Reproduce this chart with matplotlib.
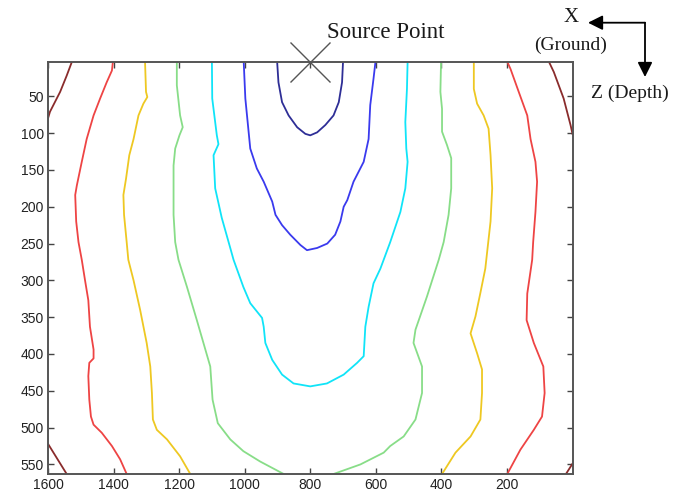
import matplotlib.pyplot as plt

# contour traces: x = ground position, z = depth
dkred_l_top_x = [1527, 1543, 1563, 1594, 1600]
dkred_l_top_z = [3, 22, 44, 71, 80]
dkred_l_bot_x = [1600, 1543]
dkred_l_bot_z = [522, 563]

red_l_x = [1402, 1405, 1421, 1441, 1461, 1482, 1497, 1512, 1517, 1514, 1507, 1497, 1487,
           1477, 1472, 1461, 1461, 1474, 1477, 1474, 1469, 1461, 1436, 1405, 1380, 1360]
red_l_z = [3, 15, 31, 53, 76, 108, 139, 171, 184, 220, 248, 272, 300,
           327, 363, 394, 406, 412, 430, 462, 485, 496, 507, 525, 543, 563]

yel_l_x = [1304, 1301, 1297, 1309, 1324, 1339, 1352, 1362, 1370, 1368, 1360,
           1355, 1339, 1319, 1299, 1288, 1283, 1280, 1268, 1237, 1197, 1166]
yel_l_z = [3, 44, 51, 60, 76, 108, 130, 162, 184, 211, 248,
           272, 300, 340, 385, 417, 453, 489, 503, 516, 539, 563]

grn_l_x = [1207, 1207, 1197, 1189, 1199, 1212, 1217, 1217, 1217, 1212, 1202, 1176, 1146,
           1105, 1098, 1082, 1044, 1004, 953, 881]
grn_l_z = [3, 35, 76, 92, 103, 121, 144, 175, 211, 248, 272, 309, 354,
           417, 462, 494, 516, 532, 546, 563]

grn_r_x = [401, 403, 398, 398, 383, 370, 370, 378, 393, 408, 444, 479, 485, 459, 459,
           479, 515, 556, 576, 647, 729]
grn_r_z = [3, 44, 67, 98, 116, 134, 175, 211, 248, 272, 322, 367, 385, 417, 453,
           489, 512, 525, 534, 550, 563]

yel_r_x = [301, 301, 291, 271, 256, 250, 245, 250, 259, 266, 281, 296, 311, 291, 276,
           276, 281, 311, 357, 398]
yel_r_z = [3, 40, 60, 76, 94, 130, 175, 220, 256, 284, 317, 349, 372, 399, 421,
           453, 489, 512, 534, 563]

red_r_x = [199, 189, 164, 138, 128, 113, 108, 113, 120, 123, 138, 140, 118, 89, 85,
           93, 118, 159, 199]
red_r_z = [3, 13, 44, 76, 108, 139, 166, 207, 248, 272, 318, 354, 385, 417, 453,
           485, 503, 530, 563]

dkred_r_top_x = [72, 57, 27, 6, 0]
dkred_r_top_z = [3, 17, 53, 89, 101]
dkred_r_bot_x = [20, 0]
dkred_r_bot_z = [563, 549]

cyan_x = [1100, 1099, 1085, 1080, 1095, 1090, 1070, 1044, 1034, 1004, 983, 947, 942,
          937, 916, 886, 851, 800, 749, 698, 657, 637, 632, 622, 607, 586, 556, 525,
          510, 503, 507, 510, 505, 503]
cyan_z = [3, 53, 103, 115, 130, 175, 215, 256, 272, 309, 331, 351, 363,
          385, 408, 428, 440, 444, 440, 428, 412, 403, 363, 336, 304, 284, 248, 207,
          175, 139, 121, 85, 40, 3]

blue_x = [1003, 998, 983, 963, 942, 916, 906, 886, 861, 830, 810, 779, 748, 724, 708,
          698, 687, 668, 637, 622, 617, 607, 601]
blue_z = [3, 53, 121, 148, 166, 193, 211, 225, 238, 252, 259, 256, 250, 238, 220,
          200, 191, 166, 139, 108, 62, 26, 3]

dkblue_x = [901, 897, 886, 866, 840, 815, 800, 779, 754, 729, 713, 703, 700]
dkblue_z = [3, 31, 58, 76, 92, 101, 103, 99, 89, 76, 58, 31, 3]

source_x = 800
x_ticks = [200, 400, 600, 800, 1000, 1200, 1400, 1600]
z_ticks = [50, 100, 150, 200, 250, 300, 350, 400, 450, 500, 550]

lines = [
    (dkblue_x, dkblue_z, '#2e2e96'),
    (blue_x, blue_z, '#3a3aee'),
    (cyan_x, cyan_z, '#10e4f8'),
    (grn_l_x, grn_l_z, '#88dd88'),
    (grn_r_x, grn_r_z, '#88dd88'),
    (yel_l_x, yel_l_z, '#eec822'),
    (yel_r_x, yel_r_z, '#eec822'),
    (red_l_x, red_l_z, '#ee4444'),
    (red_r_x, red_r_z, '#ee4444'),
    (dkred_l_top_x, dkred_l_top_z, '#8a2c2c'),
    (dkred_l_bot_x, dkred_l_bot_z, '#8a2c2c'),
    (dkred_r_top_x, dkred_r_top_z, '#8a2c2c'),
    (dkred_r_bot_x, dkred_r_bot_z, '#8a2c2c'),
]

W, H = 691, 494
fig = plt.figure(figsize=(W / 100, H / 100), dpi=100)
ax = fig.add_axes([48 / W, 1 - 474 / H, 524.5 / W, 412.3 / H])

for xs, zs, c in lines:
    ax.plot(xs, zs, color=c, lw=1.3)

ax.set_xlim(1600, 0)
ax.set_ylim(563, 3)
ax.set_xticks(x_ticks)
ax.set_yticks(z_ticks)
ax.tick_params(direction='in', top=True, right=True, length=4, width=1,
               color='#444444', labelsize=10, labelcolor='#222222', pad=3)
for lab in ax.get_xticklabels() + ax.get_yticklabels():
    lab.set_family('Liberation Sans')
for s in ax.spines.values():
    s.set_color('#555555')
    s.set_linewidth(1.4)

# source marker sitting on the top edge
ax.plot([source_x], [3], marker='x', markersize=29, mew=1.0, color='#555555',
        clip_on=False, zorder=5)

serif = 'Liberation Serif'
fig.text(327 / W, 1 - 33 / H, 'Source Point', family=serif, fontsize=16.5,
         ha='left', va='center', color='#1a1a1a')
fig.text(571 / W, 1 - 18 / H, 'X', family=serif, fontsize=15, ha='center',
         va='center', color='#1a1a1a')
fig.text(571 / W, 1 - 45 / H, '(Ground)', family=serif, fontsize=14, ha='center',
         va='center', color='#1a1a1a')
fig.text(630 / W, 1 - 93 / H, 'Z (Depth)', family=serif, fontsize=14, ha='center',
         va='center', color='#1a1a1a')

corner = (645 / W, 1 - 22.7 / H)
for tip in [(588 / W, 1 - 22.7 / H), (645 / W, 1 - 77 / H)]:
    fig.add_artist(plt.Annotation('', xy=tip, xytext=corner, xycoords='figure fraction',
                                  textcoords='figure fraction',
                                  arrowprops=dict(arrowstyle='-|>', color='black', lw=1.3,
                                                  mutation_scale=22, shrinkA=0, shrinkB=0)))

fig.savefig('out.png', dpi=100)
